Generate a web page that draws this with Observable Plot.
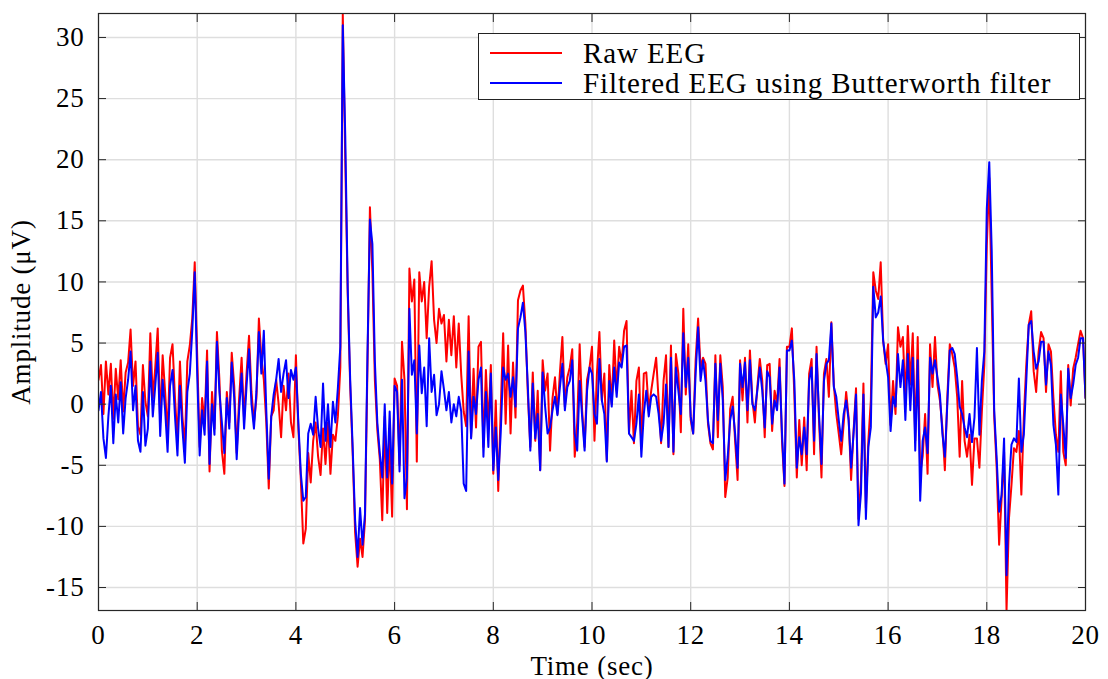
<!DOCTYPE html>
<html>
<head>
<meta charset="utf-8">
<script src="https://cdn.jsdelivr.net/npm/d3@7"></script>
<script src="https://cdn.jsdelivr.net/npm/@observablehq/plot@0.6"></script>
<style>
  html, body { margin: 0; padding: 0; background: #fff; }
  #wrap { position: relative; width: 1108px; height: 679px; }
  #legend {
    position: absolute; left: 478px; top: 33px; width: 602px; height: 67px;
    box-sizing: border-box; border: 1.3px solid #222; background: #fff;
    font-family: "Liberation Serif", serif; font-size: 29px; letter-spacing: 0.9px; color: #000;
  }
  #legend .row { position: absolute; left: 0; height: 30px; display: flex; align-items: center; white-space: nowrap; }
  #legend svg { margin-left: 11px; margin-right: 21px; }
</style>
</head>
<body>
<div id="wrap"></div>
<script>
// ---- data (one row per second, sample step 0.05 s) ----
const sampleStep = 0.05;
const seriesNames = ["Raw EEG", "Filtered EEG using Butterworth filter"];
const seriesColors = ["#ff0000", "#0000ff"];

const rawEEG = [
  2.0, 3.2, -0.8, 3.5, 0.8, 3.3, -1.2, 2.9, 0.4, 3.6, -0.6, 2.6, 3.4, 6.1, 1.5, 3.5, -1.8, -2.5, 3.2, 0.2,
  -1.0, 5.8, 0.5, 3.0, 6.2, -1.5, 4.0, 1.0, -2.5, 3.8, 4.9, 0.5, -3.0, 3.5, -1.0, -3.5, 3.5, 4.8, 7.0, 11.6,
  4.0, -3.5, 0.5, -1.5, 4.4, -5.5, 1.0, -2.0, 5.9, 2.0, -3.8, -5.7, 1.0, -1.5, 4.2, 1.5, -4.0, 0.5, 3.8, -1.3,
  2.5, 5.6, 1.0, -1.5, 0.5, 7.0, 3.8, 2.0, -1.5, -6.9, -1.0, -0.5, 2.0, 0.0, -2.7, 1.5, -0.5, 2.5, -1.5, -2.7,
  4.0, -2.0, -6.2, -11.4, -10.2, -4.0, -6.4, -3.0, -1.5, -4.3, -5.8, -2.0, -4.9, -1.5, -5.7, -2.5, -3.0, -1.0, 3.0, 31.9,
  20.0, 9.0, 1.5, -4.0, -10.5, -13.3, -11.0, -12.5, -9.5, 3.0, 16.1, 10.8, 2.0, -2.1, -4.5, -9.5, -1.0, -8.9, -3.0, -9.2,
  2.1, 1.5, -5.0, 5.1, 2.0, -8.6, 11.1, 8.4, 10.2, -4.7, 10.8, 8.4, 10.0, 5.4, 9.6, 11.7, 6.9, 5.0, 7.8, 6.6,
  7.3, 3.5, 6.9, 4.0, 7.2, 3.0, 6.6, 2.4, -0.6, -1.8, 7.2, -2.7, 2.9, -1.9, 4.7, 5.1, -3.5, 2.8, -1.9, 3.2,
  -5.7, 0.3, -7.1, -0.5, 5.8, -1.6, 4.8, -2.4, 3.4, -1.1, 8.5, 9.3, 9.7, 6.6, 0.8, -3.5, 2.6, -3.0, 1.1, -5.4,
  3.6, 1.1, 2.5, -3.8, 0.5, 2.2, -0.8, 2.6, 5.5, -0.2, 2.2, 3.0, 4.5, -4.3, -1.5, 4.9, -0.5, -3.5, 2.0, 3.0,
  4.7, -3.0, 2.5, 5.9, 0.3, 2.5, -4.6, 3.2, 0.0, 5.2, 1.1, 4.7, 3.3, 6.0, 6.8, -2.4, 1.1, -3.2, 1.9, 3.0,
  -3.5, 2.5, 2.6, -0.5, 1.1, 2.5, 3.8, 0.3, -3.2, 1.9, 4.0, -3.5, 4.8, -4.1, 4.1, 2.5, -2.3, 7.8, 0.8, 4.9,
  -1.3, -2.4, 3.6, 7.0, 3.0, 3.8, 3.3, -1.6, -3.2, -3.7, 4.0, -2.7, 4.0, 1.4, -7.6, -6.0, -0.4, 0.6, -3.0, -6.2,
  3.6, 0.3, 3.8, -1.5, 4.4, 0.3, -1.5, 1.4, 3.7, 1.9, -2.7, 3.2, 3.3, -2.2, 1.1, 0.0, 3.7, -3.0, -6.7, 4.7,
  4.7, 6.2, 0.8, -6.0, -1.3, -5.0, -1.1, -5.4, 2.5, 3.7, -4.1, 4.7, -1.3, -6.0, 2.5, 3.7, 0.6, 6.7, 1.6, -0.8,
  -2.4, -4.1, -1.6, 1.0, -1.1, -6.2, -2.2, 1.3, -9.4, -6.2, 1.7, -8.5, -3.0, 0.3, 10.8, 9.3, 8.6, 11.6, 5.2, 3.3,
  4.9, -1.7, 1.9, -0.8, 6.3, 4.7, 5.5, 0.3, 6.4, 1.6, 5.8, -3.0, 5.5, -5.7, -4.3, -0.8, -5.7, 4.9, 1.4, 5.5,
  1.6, 0.3, -1.9, -5.4, 0.6, 4.9, 4.1, 3.0, 0.6, -4.3, 1.9, -3.0, -4.3, -2.5, -6.6, -2.8, -2.8, -5.2, -0.6, 3.2,
  13.0, 18.5, 8.7, -1.0, -5.2, -11.5, -7.7, -3.9, -16.9, -9.3, -6.6, -3.6, -3.9, -2.2, -7.4, -1.1, 3.2, 6.5, 7.6, 2.7,
  1.0, 4.3, 5.9, 5.4, 1.0, 4.9, 4.3, 0.5, -2.5, -3.9, 2.7, -3.9, -5.0, 3.2, -0.1, 2.9, 3.8, 4.9, 6.0, 5.4,
  0.5
];

const filteredEEG = [
  -0.5, 1.0, -2.8, -4.4, -1.0, 1.5, -3.2, 0.8, -1.5, 1.8, -2.4, 0.5, 2.0, 4.3, -0.5, 1.5, -3.0, -3.9, 1.0, -3.4,
  -2.0, 3.5, -1.0, 1.5, 4.2, -2.6, 2.0, -0.5, -3.9, 1.5, 2.8, -1.0, -4.2, 1.5, -2.0, -4.8, 1.0, 2.5, 6.0, 10.8,
  2.5, -4.2, -0.5, -2.5, 3.5, -4.9, 0.0, -2.5, 5.1, 1.0, -1.5, -4.0, 0.5, -2.0, 3.4, 0.5, -4.5, -0.5, 2.5, -2.0,
  1.5, 4.5, 0.0, -2.0, 1.0, 5.9, 2.5, 6.0, -0.5, -6.1, -1.0, 0.8, 2.0, 3.7, 1.0, 2.5, 3.6, 0.5, 2.8, 2.0,
  3.0, -1.5, -5.7, -7.9, -7.6, -2.4, -1.6, -2.5, 0.6, -2.0, -3.5, 1.7, -3.0, 0.0, -3.5, 0.2, -1.5, 1.3, 4.7, 31.0,
  22.0, 9.5, 2.0, -3.5, -9.5, -12.5, -8.5, -11.5, -9.0, 4.0, 15.1, 13.1, 3.5, -1.5, -4.0, -6.0, 0.0, -6.0, -0.6, -6.5,
  1.5, 1.0, -5.5, 2.0, -7.7, -6.0, 7.8, 2.4, 3.6, -2.4, 4.8, 0.9, 3.0, -1.8, 5.4, 1.0, 2.4, -0.9, 0.0, 2.7,
  1.2, -0.5, 1.0, -1.5, 0.0, -1.0, 0.6, -0.6, -6.5, -7.1, 4.3, -2.8, 0.6, -0.8, 2.0, 3.0, -4.3, 1.0, -3.5, 2.5,
  -5.4, -1.9, -6.2, -2.4, 3.0, 2.0, 2.5, 0.6, 2.2, -0.2, 6.2, 7.1, 8.3, 5.9, 1.4, -3.8, 1.7, -2.8, -0.8, -5.4,
  2.6, -0.2, -2.4, -1.9, -0.5, 0.6, -0.9, 1.4, 3.3, -0.5, 1.4, 1.9, 3.6, -2.4, -3.8, 1.9, -1.0, -3.8, 1.1, 3.0,
  2.5, -0.8, -1.6, 3.7, 0.3, -0.8, -4.7, 1.9, -0.2, 3.0, 0.6, 3.4, 3.0, 4.7, 4.8, -2.4, -2.7, -3.0, -1.6, 0.8,
  -4.3, -0.8, 1.1, -1.0, 0.6, 0.8, 0.6, -0.8, -3.0, -1.6, 1.6, -3.5, 3.8, -3.9, 3.0, 1.1, -0.8, 5.8, 1.4, 3.8,
  -1.0, -2.4, 2.5, 6.3, 1.9, 3.6, 1.9, -1.3, -3.0, -3.2, 3.3, -1.3, 3.3, 0.3, -6.2, -4.3, -1.3, -0.2, -2.4, -5.2,
  3.3, 1.4, 3.4, -0.5, 3.6, 0.0, -0.5, 1.1, 3.0, 1.1, -1.9, 2.7, 2.2, -1.6, 0.3, -0.5, 3.0, -2.4, -6.5, 4.4,
  4.4, 5.2, 1.9, -5.2, -2.7, -4.1, -1.9, -4.1, 1.9, 3.0, -3.0, 4.1, -0.8, -4.9, 1.9, 3.3, 3.6, 6.6, 1.4, 0.6,
  -1.3, -3.0, -0.8, 0.3, -1.3, -5.2, -2.4, 0.8, -9.9, -7.3, 0.8, -9.4, -3.5, -1.9, 9.6, 7.1, 7.5, 8.8, 5.2, 3.6,
  2.2, -2.2, 0.6, -0.2, 4.1, 1.4, 3.6, -1.3, 4.1, -0.5, 3.8, -3.8, 3.6, -7.9, -3.0, -1.9, -4.0, 3.8, 2.5, 3.6,
  2.2, 0.8, -2.4, -4.3, 0.0, 4.4, 4.6, 4.1, 2.2, -0.2, -0.8, -1.9, -2.7, -0.8, -3.1, -1.1, 4.6, -2.5, 1.9, 4.3,
  16.0, 19.8, 12.5, -0.5, -4.4, -8.8, -7.4, -2.8, -14.0, -6.6, -3.3, -2.8, -3.1, 2.1, -3.9, -2.5, 1.9, 6.5, 6.8, 4.3,
  2.9, 3.5, 5.1, 5.1, 1.6, 4.3, 3.2, -1.7, -3.3, -7.4, 0.8, -1.7, -4.4, 2.9, 0.5, 1.6, 3.2, 3.8, 5.4, 5.4,
  0.5
];

const timeTicks = [0, 2, 4, 6, 8, 10, 12, 14, 16, 18, 20];
const amplitudeTicks = [-15, -10, -5, 0, 5, 10, 15, 20, 25, 30];

// ---- build tables ----
const toRows = (vals) => vals.map((v, i) => ({ t: +(i * sampleStep).toFixed(2), v }));
const rawRows = toRows(rawEEG);
const filtRows = toRows(filteredEEG);

const gridStyle = { stroke: "#dedede", strokeOpacity: 1, strokeWidth: 1.4 };
const plainFormat = (d) => String(d); // hyphen-minus, as in the reference

const chart = Plot.plot({
  width: 1108,
  height: 679,
  marginLeft: 98,
  marginRight: 23,
  marginTop: 13,
  marginBottom: 69,
  style: { fontFamily: "'Liberation Serif', serif", fontSize: "27px", letterSpacing: "0.8px", color: "#000", background: "#fff" },
  x: { domain: [0, 20] },
  y: { domain: [-16.88, 31.96] },
  marks: [
    Plot.gridX(timeTicks, gridStyle),
    Plot.gridY(amplitudeTicks, gridStyle),
    Plot.line(rawRows, { x: "t", y: "v", stroke: seriesColors[0], strokeWidth: 2, clip: true }),
    Plot.line(filtRows, { x: "t", y: "v", stroke: seriesColors[1], strokeWidth: 2, clip: true }),
    Plot.frame({ stroke: "#262626", strokeWidth: 1.2 }),
    Plot.axisX(timeTicks, { anchor: "bottom", tickSize: -8, tickPadding: 22, stroke: "#262626", tickFormat: plainFormat,
      label: "Time (sec)", labelAnchor: "center", labelOffset: 64, labelArrow: "none" }),
    Plot.axisX(timeTicks, { anchor: "top", tickSize: -8, stroke: "#262626", tickFormat: () => "", label: null }),
    Plot.axisY(amplitudeTicks, { anchor: "left", tickSize: -8, tickPadding: 22, stroke: "#262626", tickFormat: plainFormat,
      label: "Amplitude (μV)", labelAnchor: "center", labelOffset: 88, labelArrow: "none" }),
    Plot.axisY(amplitudeTicks, { anchor: "right", tickSize: -8, stroke: "#262626", tickFormat: () => "", label: null })
  ]
});

const wrap = document.getElementById("wrap");
wrap.appendChild(chart);

// ---- legend (inside the axes, as in the reference) ----
const legend = document.createElement("div");
legend.id = "legend";
seriesNames.forEach((name, i) => {
  const row = document.createElement("div");
  row.className = "row";
  row.style.top = (4 + i * 30) + "px";
  row.innerHTML = `<svg width="72" height="4"><line x1="0" y1="2" x2="72" y2="2" stroke="${seriesColors[i]}" stroke-width="2"/></svg><span>${name}</span>`;
  legend.appendChild(row);
});
wrap.appendChild(legend);
</script>
</body>
</html>
